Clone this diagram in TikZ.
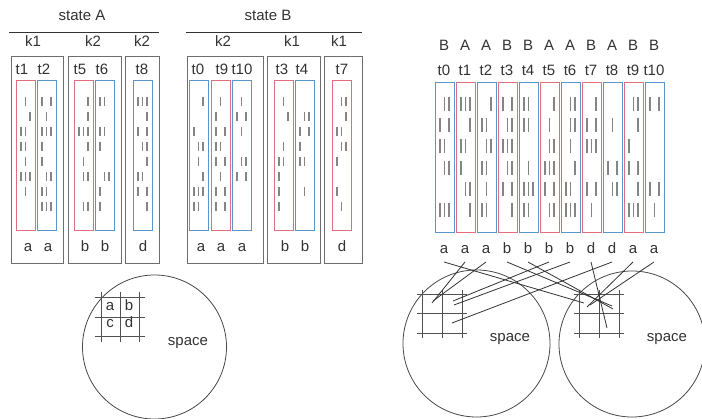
\documentclass[tikz,border=0pt]{standalone}
\usepackage{fontspec}
\setmainfont{Liberation Sans}
\definecolor{boxgray}{HTML}{6E6E6E}
\definecolor{tred}{HTML}{E0707E}
\definecolor{tblue}{HTML}{5A96CC}
\definecolor{tickgray}{HTML}{858585}
\definecolor{ink}{HTML}{333333}
\tikzset{
  lbl/.style={font=\fontsize{15}{18}\selectfont, text=ink, inner sep=0pt, anchor=base},
  outerbox/.style={draw=boxgray, line width=1pt, inner sep=0pt, rectangle},
  redbox/.style={draw=tred, line width=1pt, inner sep=0pt, rectangle},
  bluebox/.style={draw=tblue, line width=1pt, inner sep=0pt, rectangle},
  ticky/.style={draw=tickgray, line width=1.15pt},
  rulel/.style={draw=ink, line width=0.9pt},
  gridl/.style={draw=ink!85, line width=0.9pt},
  circ/.style={draw=ink!90, line width=0.8pt, circle, inner sep=0pt},
  link/.style={draw=ink, line width=0.8pt},
}
% box node: style, x1, y1, x2, y2, name
\newcommand\bx[6]{\node[#1, minimum width={(#4)-(#2)}, minimum height={(#5)-(#3)}] (#6) at ({((#2)+(#4))/2},{((#3)+(#5))/2}) {};}
% spike raster: left x, first row y, rows, tick length, row spacing
\newcommand\spikes[5]{%
  \foreach \r in {1,...,#3}{%
    \foreach \c in {5,9.5,14}{%
      \pgfmathtruncatemacro\on{rnd<0.5}%
      \ifnum\on=1 \draw[ticky] ({#1+\c},{#2+(\r-1)*#5}) -- ++(0,#4);\fi
    }%
  }%
}
\begin{document}
\begin{tikzpicture}[x=1pt,y=-1pt]
\useasboundingbox (0,0) rectangle (702,419);
\pgfmathsetseed{17}

% ---------- state A ----------
\node[lbl] (stA) at (82,21) {state A};
\coordinate (rAl) at (9,32); \coordinate (rAr) at (159,32);
\draw[rulel] (rAl) -- (rAr);
\node[lbl] (kA1) at (33,47) {k1};
\node[lbl] (kA2) at (93,47) {k2};
\node[lbl] (kA3) at (142,47) {k2};
\bx{outerbox}{11}{57}{63}{264}{oA1}
\bx{outerbox}{68}{57}{121}{264}{oA2}
\bx{outerbox}{125}{57}{159}{264}{oA3}

% ---------- state B ----------
\node[lbl] (stB) at (268,21) {state B};
\coordinate (rBl) at (186,32); \coordinate (rBr) at (362,32);
\draw[rulel] (rBl) -- (rBr);
\node[lbl] (kB1) at (223,47) {k2};
\node[lbl] (kB2) at (292,47) {k1};
\node[lbl] (kB3) at (339,47) {k1};
\bx{outerbox}{187}{57}{263}{264}{oB1}
\bx{outerbox}{267}{57}{320}{264}{oB2}
\bx{outerbox}{324}{57}{362}{264}{oB3}

% trial labels, inner boxes and bottom labels (left half)
\foreach \nm/\lx/\x/\st/\bl/\bxp in {
  t1/22/16/redbox/a/28, t2/44/37/bluebox/a/48,
  t5/80/74/redbox/b/85, t6/102/95/bluebox/b/105,
  t8/142/133/bluebox/d/143,
  t0/198/189/bluebox/a/201, t9/222/211/redbox/a/221, t10/242/232/bluebox/a/242,
  t3/282/274/redbox/b/285, t4/302/295/bluebox/b/305,
  t7/342/332/redbox/d/342}{
  \node[lbl] (L\nm) at (\lx,74.5) {\nm};
  \bx{\st}{\x}{81}{\x+19}{231}{I\nm}
  \node[lbl] (B\nm) at (\bxp,252) {\bl};
  \spikes{\x}{97}{8}{9}{15}
}

% left space
\node[circ, minimum size=144] (cA) at (154.5,347) {};
\foreach \gx [count=\k] in {101,120,139}{
  \coordinate (gvt\k) at (\gx,292); \coordinate (gvb\k) at (\gx,342);
  \draw[gridl] (gvt\k) -- (gvb\k);
}
\foreach \gy [count=\k] in {297,317,336}{
  \coordinate (ghl\k) at (95,\gy); \coordinate (ghr\k) at (145,\gy);
  \draw[gridl] (ghl\k) -- (ghr\k);
}
\node[lbl] (ga) at (110,311) {a};
\node[lbl] (gb) at (129,311) {b};
\node[lbl] (gc) at (110,328) {c};
\node[lbl] (gd) at (129,328) {d};
\node[lbl] (spA) at (188,346) {space};

% ---------- right half ----------
\foreach \s [count=\i from 0] in {B,A,A,B,B,A,A,B,A,B,B}{
  \node[lbl] (S\i) at ({444+21*\i},51) {\s};
}
\foreach \i in {0,...,10}{
  \node[lbl] (R\i) at ({444+21*\i},76) {t\i};
  \ifodd\i
    \bx{redbox}{435+21*\i}{83}{454+21*\i}{233}{Q\i}
  \else
    \bx{bluebox}{435+21*\i}{83}{454+21*\i}{233}{Q\i}
  \fi
  \spikes{435+21*\i}{97}{6}{14}{21.2}
}
\foreach \s [count=\i from 0] in {a,a,a,b,b,b,b,d,d,a,a}{
  \node[lbl] (V\i) at ({444+21*\i},254) {\s};
}

% two spaces
\node[circ, minimum size=147] (cL) at (476.5,343.5) {};
\node[circ, minimum size=146] (cR) at (632,344) {};
\foreach \ox/\nm in {0/L,157/R}{
  \foreach \gx [count=\k] in {422,442,462}{
    \coordinate (v\nm t\k) at (\gx+\ox,290); \coordinate (v\nm b\k) at (\gx+\ox,338);
    \draw[gridl] (v\nm t\k) -- (v\nm b\k);
  }
  \foreach \gy [count=\k] in {294,313,333}{
    \coordinate (h\nm l\k) at (417+\ox,\gy); \coordinate (h\nm r\k) at (467+\ox,\gy);
    \draw[gridl] (h\nm l\k) -- (h\nm r\k);
  }
}
\node[lbl] (spL) at (510,342) {space};
\node[lbl] (spR) at (667,342) {space};

% links from labels to grid cells
\foreach \s/\ex/\ey in {0/584/303, 1/432/303, 2/433/301, 3/612/306, 4/613/309,
  5/453/301, 6/454/305, 7/607/328, 8/452/323, 9/587/307, 10/590/305}{
  \coordinate (E\s) at (\ex,\ey);
  \draw[link] ([yshift=-8pt]V\s.base) -- (E\s);
}
\end{tikzpicture}
\end{document}
